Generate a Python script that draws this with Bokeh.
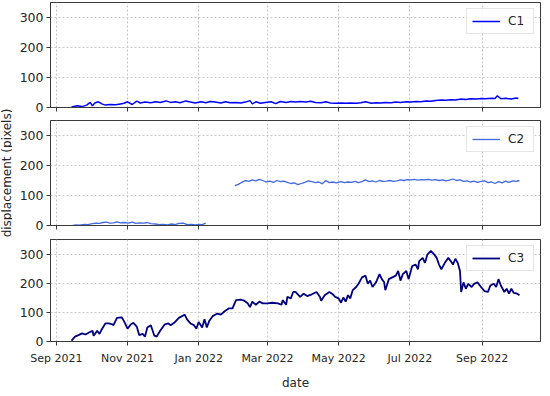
from datetime import datetime, timedelta
from bokeh.plotting import figure
from bokeh.layouts import column, row
from bokeh.models import Range1d, FixedTicker, ColumnDataSource, Label
from bokeh.embed import file_html
from bokeh.resources import INLINE

nan = float("nan")
origin = "2021-09-01"

# ---- data (days since origin, displacement in pixels) ----
c1_day = [13, 18, 22, 26, 29, 31, 33, 36, 39, 42,
          46, 51, 55, 58, 61, 65, 69, 72, 76, 81,
          85, 89, 94, 98, 102, 106, 111, 115, 119, 124,
          128, 132, 136, 141, 145, 149, 154, 158, 162, 166,
          168, 171, 175, 179, 184, 188, 192, 197, 201, 205,
          209, 214, 218, 222, 227, 231, 235, 239, 244, 248,
          252, 257, 261, 265, 270, 274, 278, 282, 287, 291,
          295, 300, 304, 308, 312, 317, 321, 325, 330, 334,
          338, 342, 347, 351, 355, 360, 364, 368, 373, 376,
          378, 381, 385, 390, 394, 396]
c1_val = [2, 6, 3, 8, 17, 6, 15, 19, 12, 8,
          10, 9, 12, 14, 19, 10, 21, 15, 18, 16,
          19, 17, 22, 17, 19, 16, 22, 18, 15, 19,
          16, 20, 18, 15, 19, 16, 17, 15, 18, 23,
          12, 19, 14, 17, 19, 13, 20, 17, 20, 18,
          20, 18, 21, 17, 16, 19, 15, 14, 15, 14,
          15, 14, 16, 19, 14, 16, 15, 17, 16, 18,
          17, 19, 18, 20, 19, 22, 21, 23, 25, 24,
          26, 25, 28, 27, 29, 28, 30, 29, 31, 30,
          39, 29, 31, 28, 32, 30]

c2_day = [14, 17, 20, 24, 27, 31, 34, 37, 40, 43,
          46, 49, 52, 55, 58, 62, 65, 68, 71, 75,
          78, 81, 85, 88, 92, 95, 99, 102, 105, 109,
          112, 116, 119, 122, 125, 128,
          140,
          153, 156, 159, 162, 165, 168, 171, 174, 177, 180,
          183, 186, 189, 192, 195, 198, 201, 204, 207, 210,
          213, 216, 219, 222, 225, 228, 231, 234, 237, 240,
          244, 247, 250, 253, 256, 259, 262, 265, 268, 271,
          274, 277, 280, 283, 286, 289, 292, 295, 298, 301,
          304, 307, 310, 313, 316, 319, 322, 325, 328, 331,
          334, 337, 340, 343, 346, 349, 352, 355, 358, 361,
          364, 367, 370, 373, 376, 379, 382, 385, 388, 391,
          394, 397]
c2_val = [0, 2, 1, 4, 3, 6, 8, 7, 10, 11,
          8, 9, 12, 9, 10, 8, 11, 7, 9, 8,
          10, 6, 5, 3, 4, 2, 5, 3, 7, 8,
          3, 4, 2, 4, 3, 8,
          nan,
          133, 137, 144, 150, 147, 152, 149, 154, 150, 145,
          148, 144, 150, 146, 148, 144, 140, 142, 136, 140,
          144, 149, 146, 143, 145, 139, 150, 143, 145, 142,
          146, 143, 145, 144, 147, 143, 146, 152, 146, 149,
          145, 150, 147, 148, 150, 147, 149, 152, 150, 153,
          152, 154, 151, 153, 152, 154, 151, 153, 150, 152,
          149, 151, 155, 150, 152, 147, 149, 145, 148, 144,
          147, 149, 143, 145, 140, 146, 142, 148, 144, 149,
          147, 150]

c3_day = [13, 16, 19, 22, 25, 28, 31, 32, 35, 37,
          39, 42, 45, 48, 49, 52, 56, 58, 61, 64,
          66, 69, 71, 74, 76, 78, 81, 84, 86, 89,
          93, 96, 98, 101, 105, 110, 112, 115, 118, 120,
          122, 125, 127, 129, 131, 134, 138, 141, 144, 148,
          151, 154, 158, 161, 164, 166, 168, 171, 174, 177,
          181, 185, 190, 193, 194, 197, 198, 201, 203, 205,
          209, 212, 215, 219, 223, 226, 227, 230, 234, 237,
          239, 242, 244, 246, 248, 250, 252, 254, 257, 259,
          262, 265, 267, 269, 271, 274, 277, 279, 281, 282,
          285, 288, 291, 293, 295, 297, 300, 302, 305, 308,
          310, 311, 314, 316, 318, 321, 324, 326, 328, 330,
          333, 336, 338, 340, 342, 344, 346, 347, 349, 351,
          353, 356, 358, 361, 364, 367, 370, 372, 375, 377,
          379, 381, 384, 386, 388, 390, 392, 395, 397]
c3_val = [3, 17, 22, 28, 24, 31, 37, 20, 37, 26,
          42, 62, 62, 59, 56, 81, 83, 70, 44, 59,
          64, 51, 22, 26, 17, 48, 56, 20, 17, 37,
          59, 62, 56, 64, 81, 92, 76, 62, 56, 44,
          67, 48, 76, 48, 70, 87, 96, 92, 103, 114,
          114, 142, 144, 140, 131, 118, 137, 126, 137, 131,
          131, 133, 131, 126, 142, 126, 153, 148, 170, 170,
          153, 164, 156, 162, 170, 153, 140, 159, 170, 162,
          153, 148, 133, 151, 137, 159, 148, 176, 187, 198,
          220, 226, 198, 209, 187, 203, 231, 214, 203, 176,
          214, 220, 226, 242, 209, 231, 242, 214, 259, 264,
          248, 276, 287, 270, 298, 311, 298, 287, 264, 248,
          270, 287, 276, 264, 284, 270, 242, 170, 203, 181,
          198, 187, 198, 203, 187, 173, 170, 192, 198, 187,
          214, 192, 170, 181, 164, 181, 167, 164, 159]

series_names = ["C1", "C2", "C3"]
series_colors = ["#0000ff", "#4169e1", "#000080"]

x_start = "2021-08-27"
x_end = "2022-10-21"
y_min, y_max = 0, 350
y_ticks = [0, 100, 200, 300]
tick_dates = ["2021-09-01", "2021-11-01", "2022-01-01", "2022-03-01",
              "2022-05-01", "2022-07-01", "2022-09-01"]
tick_labels = ["Sep 2021", "Nov 2021", "Jan 2022", "Mar 2022",
               "May 2022", "Jul 2022", "Sep 2022"]
y_label = "displacement (pixels)"
x_label = "date"

# ---- helpers ----
EPOCH = datetime(1970, 1, 1)
o = datetime.strptime(origin, "%Y-%m-%d")


def to_dt(days):
    return [o + timedelta(days=d) for d in days]


def to_ms(s):
    d = datetime.strptime(s, "%Y-%m-%d")
    return (d - EPOCH).total_seconds() * 1000.0


tick_ms = [to_ms(s) for s in tick_dates]
xr = Range1d(to_ms(x_start), to_ms(x_end))

FONT = "DejaVu Sans"
TXT = "#262626"
FRAME = "#3a3a3a"
LABEL_W = 12
PANEL_W = 531
FRAME_H = 105
H1, H2, H3 = 2 + FRAME_H + 7, 6 + FRAME_H + 7, 7 + FRAME_H + 48


def make_fig(height, top, bottom, name, color, days, vals, lw,
             show_xlabels=False, xlabel=None):
    p = figure(width=PANEL_W, height=height, x_axis_type="datetime",
               x_range=xr, y_range=Range1d(y_min, y_max),
               output_backend="svg", toolbar_location=None,
               min_border_left=38, min_border_right=3,
               min_border_top=top, min_border_bottom=bottom)
    src = ColumnDataSource(dict(x=to_dt(days), y=vals))
    p.line("x", "y", source=src, color=color, line_width=lw,
           legend_label=name)

    xt = FixedTicker(ticks=tick_ms)
    yt = FixedTicker(ticks=y_ticks)
    p.xaxis.ticker = xt
    p.yaxis.ticker = yt
    p.xgrid.ticker = xt
    p.ygrid.ticker = yt
    p.xaxis.major_label_overrides = {m: l for m, l in zip(tick_ms, tick_labels)}

    for ax in (p.xaxis, p.yaxis):
        ax.axis_line_color = FRAME
        ax.major_tick_line_color = FRAME
        ax.major_tick_out = 4
        ax.major_tick_in = 0
        ax.minor_tick_line_color = None
        ax.major_label_text_font = FONT
        ax.major_label_text_color = TXT
        ax.axis_label_text_font = FONT
        ax.axis_label_text_color = TXT
        ax.axis_label_text_font_style = "normal"
        ax.axis_label_text_font_size = "12px"
    p.yaxis.major_label_text_font_size = "12.5px"
    p.yaxis.major_label_standoff = 3
    if show_xlabels:
        p.xaxis.major_label_text_font_size = "11px"
        p.xaxis.major_label_standoff = 6
    else:
        p.xaxis.major_label_text_font_size = "0px"
        p.xaxis.major_label_text_color = None
        p.xaxis.major_label_standoff = 0
    if xlabel:
        p.xaxis.axis_label = xlabel
        p.xaxis.axis_label_standoff = 8

    for g in (p.xgrid, p.ygrid):
        g.grid_line_color = "#c8c8c8"
        g.grid_line_dash = "2 2"
        g.grid_line_width = 1

    p.outline_line_color = FRAME
    p.outline_line_width = 1
    p.background_fill_color = "white"
    p.border_fill_color = "white"

    lg = p.legend[0]
    lg.location = "top_right"
    lg.margin = 6
    lg.padding = 5
    lg.spacing = 0
    lg.glyph_width = 28
    lg.glyph_height = 12
    lg.label_height = 12
    lg.label_standoff = 8
    lg.label_text_font = FONT
    lg.label_text_font_size = "12px"
    lg.label_text_color = TXT
    lg.border_line_color = "#cccccc"
    lg.border_line_width = 1
    lg.background_fill_alpha = 0.85
    return p


p1 = make_fig(H1, 2, 7, series_names[0], series_colors[0], c1_day, c1_val, 1.5)
p2 = make_fig(H2, 6, 7, series_names[1], series_colors[1], c2_day, c2_val, 1.3)
p3 = make_fig(H3, 7, 48, series_names[2], series_colors[2], c3_day, c3_val, 1.8,
              show_xlabels=True, xlabel=x_label)

total_h = H1 + H2 + H3
lab = figure(width=LABEL_W, height=total_h, x_axis_type=None, y_axis_type=None,
             x_range=Range1d(0, LABEL_W), y_range=Range1d(0, total_h),
             output_backend="svg", toolbar_location=None, min_border=0)
lab.outline_line_color = None
lab.background_fill_color = "white"
lab.border_fill_color = "white"
lab.add_layout(Label(x=LABEL_W / 2, y=total_h - (H1 + 6 + FRAME_H / 2), text=y_label,
                     angle=90, angle_units="deg", text_align="center",
                     text_baseline="middle", text_font=FONT,
                     text_font_size="12px", text_color=TXT))

layout = row(lab, column(p1, p2, p3, spacing=0), spacing=0)
open("out.html", "w").write(file_html(layout, INLINE))
